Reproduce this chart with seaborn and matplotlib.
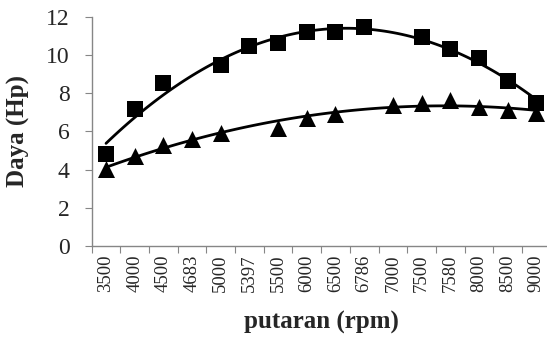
import numpy as np
import pandas as pd
import seaborn as sns
import matplotlib.pyplot as plt
from matplotlib.ticker import FixedLocator

# rpm categories on the x axis
rpm = ['3500', '4000', '4500', '4683', '5000', '5397', '5500', '6000',
       '6500', '6786', '7000', '7500', '7580', '8000', '8500', '9000']
# square series (NaN where no point)
daya_kotak = [4.8, 7.15, 8.55, np.nan, 9.45, 10.45, 10.6, 11.2,
              11.2, 11.45, np.nan, 10.95, 10.3, 9.85, 8.65, 7.5]
# triangle series
daya_segitiga = [4.05, 4.7, 5.3, 5.6, 5.9, np.nan, 6.2, 6.7,
                 6.9, np.nan, 7.4, 7.5, 7.65, 7.3, 7.1, 6.95]

sns.set_style('white')
plt.rcParams['font.family'] = ['Liberation Serif', 'DejaVu Serif']

df = pd.DataFrame({'idx': np.arange(len(rpm)), 'rpm': rpm,
                   'kotak': daya_kotak, 'segitiga': daya_segitiga})

fig = plt.figure(figsize=(5.47, 3.43), dpi=100)
ax = fig.add_axes([0.1676, 0.2828, 0.839, 0.6685])

# polynomial trend lines
sns.regplot(data=df, x='idx', y='kotak', order=3, scatter=False, ci=None,
            color='black', line_kws={'lw': 2.0}, ax=ax)
sns.regplot(data=df, x='idx', y='segitiga', order=2, scatter=False, ci=None,
            color='black', line_kws={'lw': 2.0}, ax=ax)

sns.scatterplot(data=df, x='idx', y='kotak', marker='s', s=120, color='black',
                edgecolor='black', linewidth=0, ax=ax, zorder=3)
sns.scatterplot(data=df, x='idx', y='segitiga', marker='^', s=150, color='black',
                edgecolor='black', linewidth=0, ax=ax, zorder=3)

ax.set_xlim(-0.5, len(rpm) - 0.5)
ax.set_ylim(0, 12)
ax.set_yticks(range(0, 13, 2))
ax.tick_params(axis='y', labelsize=17, length=5, color='#868686', left=True, pad=11)

# ticks between categories, labels at centers
ax.xaxis.set_major_locator(FixedLocator(np.arange(-0.5, len(rpm), 1.0)))
ax.xaxis.set_minor_locator(FixedLocator(np.arange(len(rpm))))
ax.set_xticklabels([])
ax.set_xticklabels(rpm, minor=True, rotation=90)
ax.tick_params(axis='x', which='major', length=5, color='#868686', bottom=True)
ax.tick_params(axis='x', which='minor', length=0, labelsize=13.5, pad=6)

for s in ['top', 'right']:
    ax.spines[s].set_visible(False)
for s in ['left', 'bottom']:
    ax.spines[s].set_color('#868686')
    ax.spines[s].set_linewidth(1.0)

ax.set_xlabel('putaran (rpm)', fontsize=18, fontweight='bold')
ax.set_ylabel('Daya (Hp)', fontsize=18, fontweight='bold')
ax.xaxis.set_label_coords(0.5, -0.285)
ax.yaxis.set_label_coords(-0.134, 0.5)

fig.savefig('out.png', dpi=100)
